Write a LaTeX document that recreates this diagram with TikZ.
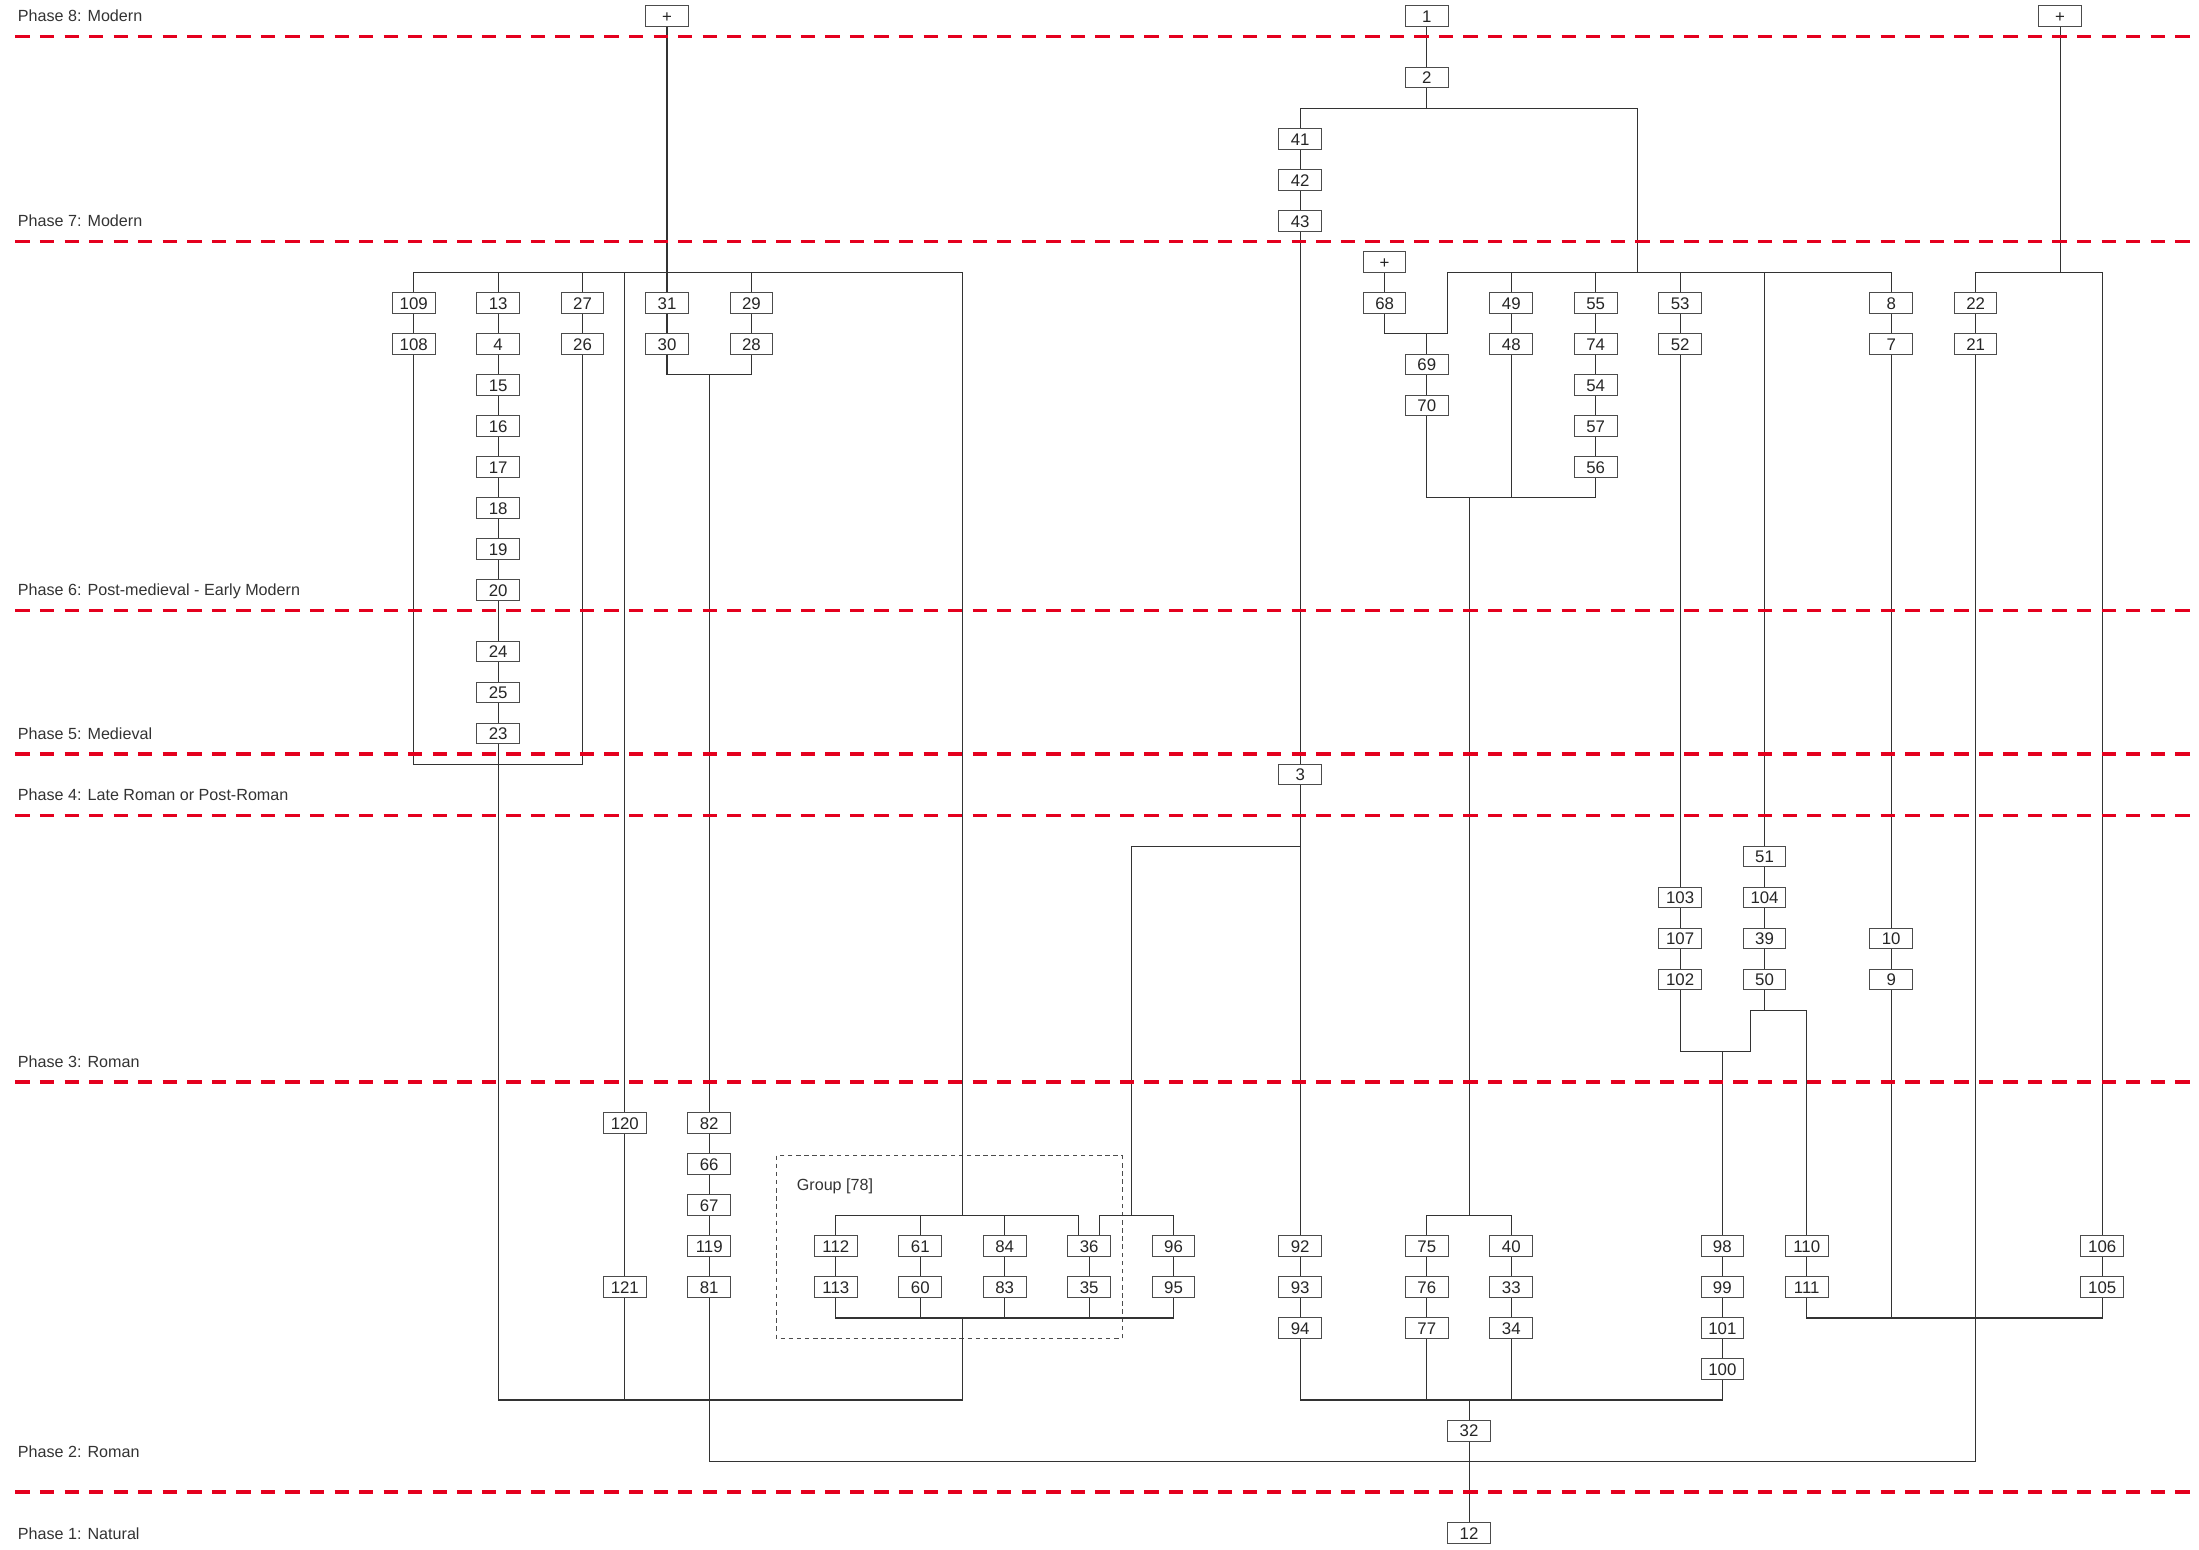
\documentclass[tikz,border=0pt]{standalone}
\usepackage{fontspec}
\setmainfont{Liberation Sans}

\definecolor{phasered}{RGB}{228,0,30}
\tikzset{
  ctx/.style={draw=black!70, fill=white, line width=0.7pt, minimum width=30.4pt,
    minimum height=14.7pt, inner sep=0pt, text height=8.6pt, text depth=0pt,
    font=\fontsize{12}{12}\selectfont, text=black!85},
  link/.style={draw=black!80, line width=0.75pt},
  phaseline/.style={draw=phasered, line width=2.6pt, dash pattern=on 10.2pt off 7.3pt},
  phaselabel/.style={anchor=west, inner sep=0pt, text height=8.2pt, text depth=0pt,
    font=\fontsize{11.5}{12}\selectfont, text=black!80},
  grpbox/.style={draw=black!70, line width=0.8pt, dash pattern=on 3.2pt off 2.6pt},
}

\begin{document}
\begin{tikzpicture}[x=30.1pt,y={(0pt,-29.24pt)}]
\useasboundingbox (-9.801,-0.390) rectangle (42.292,37.40);

% contexts
\node[ctx] (p8a) at (6,0) {+};
\node[ctx] (n1) at (24,0) {1};
\node[ctx] (p8b) at (39,0) {+};
\node[ctx] (n2) at (24,1.5) {2};
\node[ctx] (n41) at (21,3) {41};
\node[ctx] (n42) at (21,4) {42};
\node[ctx] (n43) at (21,5) {43};
\node[ctx] (p7) at (23,6) {+};

\node[ctx] (n109) at (0,7) {109};
\node[ctx] (n13) at (2,7) {13};
\node[ctx] (n27) at (4,7) {27};
\node[ctx] (n31) at (6,7) {31};
\node[ctx] (n29) at (8,7) {29};
\node[ctx] (n68) at (23,7) {68};
\node[ctx] (n49) at (26,7) {49};
\node[ctx] (n55) at (28,7) {55};
\node[ctx] (n53) at (30,7) {53};
\node[ctx] (n8) at (35,7) {8};
\node[ctx] (n22) at (37,7) {22};

\node[ctx] (n108) at (0,8) {108};
\node[ctx] (n4) at (2,8) {4};
\node[ctx] (n26) at (4,8) {26};
\node[ctx] (n30) at (6,8) {30};
\node[ctx] (n28) at (8,8) {28};
\node[ctx] (n48) at (26,8) {48};
\node[ctx] (n74) at (28,8) {74};
\node[ctx] (n52) at (30,8) {52};
\node[ctx] (n7) at (35,8) {7};
\node[ctx] (n21) at (37,8) {21};

\node[ctx] (n69) at (24,8.5) {69};
\node[ctx] (n70) at (24,9.5) {70};
\node[ctx] (n15) at (2,9) {15};
\node[ctx] (n54) at (28,9) {54};
\node[ctx] (n16) at (2,10) {16};
\node[ctx] (n57) at (28,10) {57};
\node[ctx] (n17) at (2,11) {17};
\node[ctx] (n56) at (28,11) {56};
\node[ctx] (n18) at (2,12) {18};
\node[ctx] (n19) at (2,13) {19};
\node[ctx] (n20) at (2,14) {20};
\node[ctx] (n24) at (2,15.5) {24};
\node[ctx] (n25) at (2,16.5) {25};
\node[ctx] (n23) at (2,17.5) {23};
\node[ctx] (n3) at (21,18.5) {3};

\node[ctx] (n51) at (32,20.5) {51};
\node[ctx] (n103) at (30,21.5) {103};
\node[ctx] (n104) at (32,21.5) {104};
\node[ctx] (n107) at (30,22.5) {107};
\node[ctx] (n39) at (32,22.5) {39};
\node[ctx] (n10) at (35,22.5) {10};
\node[ctx] (n102) at (30,23.5) {102};
\node[ctx] (n50) at (32,23.5) {50};
\node[ctx] (n9) at (35,23.5) {9};

\node[ctx] (n120) at (5,27) {120};
\node[ctx] (n82) at (7,27) {82};
\node[ctx] (n66) at (7,28) {66};
\node[ctx] (n67) at (7,29) {67};

\node[ctx] (n119) at (7,30) {119};
\node[ctx] (n112) at (10,30) {112};
\node[ctx] (n61) at (12,30) {61};
\node[ctx] (n84) at (14,30) {84};
\node[ctx] (n36) at (16,30) {36};
\node[ctx] (n96) at (18,30) {96};
\node[ctx] (n92) at (21,30) {92};
\node[ctx] (n75) at (24,30) {75};
\node[ctx] (n40) at (26,30) {40};
\node[ctx] (n98) at (31,30) {98};
\node[ctx] (n110) at (33,30) {110};
\node[ctx] (n106) at (40,30) {106};

\node[ctx] (n121) at (5,31) {121};
\node[ctx] (n81) at (7,31) {81};
\node[ctx] (n113) at (10,31) {113};
\node[ctx] (n60) at (12,31) {60};
\node[ctx] (n83) at (14,31) {83};
\node[ctx] (n35) at (16,31) {35};
\node[ctx] (n95) at (18,31) {95};
\node[ctx] (n93) at (21,31) {93};
\node[ctx] (n76) at (24,31) {76};
\node[ctx] (n33) at (26,31) {33};
\node[ctx] (n99) at (31,31) {99};
\node[ctx] (n111) at (33,31) {111};
\node[ctx] (n105) at (40,31) {105};

\node[ctx] (n94) at (21,32) {94};
\node[ctx] (n77) at (24,32) {77};
\node[ctx] (n34) at (26,32) {34};
\node[ctx] (n101) at (31,32) {101};
\node[ctx] (n100) at (31,33) {100};
\node[ctx] (n32) at (25,34.5) {32};
\node[ctx] (n12) at (25,37) {12};

% group
\draw[grpbox] (8.59,27.79) rectangle (16.78,32.25);
\node[phaselabel, font=\fontsize{11.5}{12}\selectfont] (grp) at (9.07,28.5) {Group [78]};

% junction points
\coordinate (a1) at (21,2.25);
\coordinate (a2) at (29,2.25);
\coordinate (a3) at (29,6.25);
\coordinate (w1) at (0,6.25);
\coordinate (w2) at (13,6.25);
\coordinate (t1) at (6,8.75);
\coordinate (t2) at (8,8.75);
\coordinate (m1) at (0,18.25);
\coordinate (m2) at (4,18.25);
\coordinate (e1) at (24.5,6.25);
\coordinate (e2) at (35,6.25);
\coordinate (e3) at (24.5,7.75);
\coordinate (e4) at (23,7.75);
\coordinate (r1) at (37,6.25);
\coordinate (r2) at (40,6.25);
\coordinate (q3) at (24,11.75);
\coordinate (q4) at (28,11.75);
\coordinate (q5) at (25,11.75);
\coordinate (q0) at (25,29.25);
\coordinate (q1) at (24,29.25);
\coordinate (q2) at (26,29.25);
\coordinate (d1) at (21,20.25);
\coordinate (d2) at (17,20.25);
\coordinate (d3) at (17,29.25);
\coordinate (f1) at (31.67,24.25);
\coordinate (f2) at (33,24.25);
\coordinate (f3) at (31.67,25.25);
\coordinate (f4) at (30,25.25);
\coordinate (g0) at (13,29.25);
\coordinate (g1) at (16.25,29.25);
\coordinate (g2) at (18,29.25);
\coordinate (g3) at (10,29.25);
\coordinate (g4) at (15.75,29.25);
\coordinate (g5) at (13,31.75);
\coordinate (g6) at (10,31.75);
\coordinate (g7) at (18,31.75);
\coordinate (h1) at (33,31.75);
\coordinate (h2) at (40,31.75);
\coordinate (s1) at (2,33.75);
\coordinate (s2) at (13,33.75);
\coordinate (v1) at (21,33.75);
\coordinate (v2) at (31,33.75);
\coordinate (u1) at (7,35.25);
\coordinate (u2) at (37,35.25);

% connectors
\draw[link] (n1) -- (n2);
\draw[link] (n2) -- (n2 |- a1);
\draw[link] (n41) -- (a1) -- (a2) -- (a3);
\draw[link] (n41) -- (n42);
\draw[link] (n42) -- (n43);
\draw[link] (n43) -- (n3);
\draw[link] (n3) -- (n92);

\draw[link] (p8a) -- (n31);
\draw[link] (n109) -- (w1) -- (w2) -- (g0);
\draw[link] (n13) -- (n13 |- w1);
\draw[link] (n27) -- (n27 |- w1);
\draw[link] (n29) -- (n29 |- w1);
\draw[link] (n120) -- (n120 |- w1);
\draw[link] (n109) -- (n108);
\draw[link] (n13) -- (n4);
\draw[link] (n4) -- (n15);
\draw[link] (n15) -- (n16);
\draw[link] (n16) -- (n17);
\draw[link] (n17) -- (n18);
\draw[link] (n18) -- (n19);
\draw[link] (n19) -- (n20);
\draw[link] (n20) -- (n24);
\draw[link] (n24) -- (n25);
\draw[link] (n25) -- (n23);
\draw[link] (n27) -- (n26);
\draw[link] (n31) -- (n30);
\draw[link] (n29) -- (n28);
\draw[link] (n30) -- (t1) -- (t2) -- (n28);
\draw[link] (n82 |- t1) -- (n82);
\draw[link] (n108) -- (m1) -- (m2) -- (n26);
\draw[link] (n23) -- (s1) -- (s2) -- (g5);
\draw[link] (n120) -- (n121);
\draw[link] (n121) -- (n121 |- s1);
\draw[link] (n82) -- (n66);
\draw[link] (n66) -- (n67);
\draw[link] (n67) -- (n119);
\draw[link] (n119) -- (n81);
\draw[link] (n81) -- (u1) -- (u2) -- (n21);

\draw[link] (n112) -- (g3) -- (g4) -- (g4 |- n36.north);
\draw[link] (n61) -- (n61 |- g3);
\draw[link] (n84) -- (n84 |- g3);
\draw[link] (d1) -- (d2) -- (d3);
\draw[link] (g1 |- n36.north) -- (g1) -- (g2) -- (n96);
\draw[link] (n112) -- (n113);
\draw[link] (n61) -- (n60);
\draw[link] (n84) -- (n83);
\draw[link] (n36) -- (n35);
\draw[link] (n96) -- (n95);
\draw[link] (n113) -- (g6) -- (g7) -- (n95);
\draw[link] (n60) -- (n60 |- g6);
\draw[link] (n83) -- (n83 |- g6);
\draw[link] (n35) -- (n35 |- g6);

\draw[link] (p7) -- (n68);
\draw[link] (e1) -- (e2) -- (n8);
\draw[link] (n68) -- (e4) -- (e3) -- (e1);
\draw[link] (n69 |- e3) -- (n69);
\draw[link] (n49) -- (n49 |- e1);
\draw[link] (n55) -- (n55 |- e1);
\draw[link] (n53) -- (n53 |- e1);
\draw[link] (n51) -- (n51 |- e1);
\draw[link] (n69) -- (n70);
\draw[link] (n49) -- (n48);
\draw[link] (n55) -- (n74);
\draw[link] (n74) -- (n54);
\draw[link] (n54) -- (n57);
\draw[link] (n57) -- (n56);
\draw[link] (n70) -- (q3) -- (q4) -- (n56);
\draw[link] (n48) -- (n48 |- q3);
\draw[link] (q5) -- (q0);
\draw[link] (n75) -- (q1) -- (q2) -- (n40);
\draw[link] (n53) -- (n52);
\draw[link] (n52) -- (n103);
\draw[link] (n103) -- (n107);
\draw[link] (n107) -- (n102);
\draw[link] (n51) -- (n104);
\draw[link] (n104) -- (n39);
\draw[link] (n39) -- (n50);
\draw[link] (n50) -- (n50 |- f1);
\draw[link] (f1) -- (f2) -- (n110);
\draw[link] (f1) -- (f3) -- (f4) -- (n102);
\draw[link] (n98 |- f3) -- (n98);
\draw[link] (n8) -- (n7);
\draw[link] (n7) -- (n10);
\draw[link] (n10) -- (n9);
\draw[link] (n9) -- (n9 |- h1);
\draw[link] (n111) -- (h1) -- (h2) -- (n105);
\draw[link] (p8b) -- (p8b |- r1);
\draw[link] (n22) -- (r1) -- (r2) -- (n106);
\draw[link] (n22) -- (n21);

\draw[link] (n92) -- (n93);
\draw[link] (n93) -- (n94);
\draw[link] (n75) -- (n76);
\draw[link] (n76) -- (n77);
\draw[link] (n40) -- (n33);
\draw[link] (n33) -- (n34);
\draw[link] (n98) -- (n99);
\draw[link] (n99) -- (n101);
\draw[link] (n101) -- (n100);
\draw[link] (n110) -- (n111);
\draw[link] (n106) -- (n105);
\draw[link] (n94) -- (v1) -- (v2) -- (n100);
\draw[link] (n77) -- (n77 |- v1);
\draw[link] (n34) -- (n34 |- v1);
\draw[link] (n32 |- v1) -- (n32);
\draw[link] (n32) -- (n12);

% phases
\foreach \r in {0.5,5.5,14.5,18,19.5,26,36}
  \draw[phaseline] (-9.435,\r) -- (42.4,\r);
\node[phaselabel] (ph8) at (-9.382,0) {Phase 8: Modern};
\node[phaselabel] (ph7) at (-9.382,5) {Phase 7: Modern};
\node[phaselabel] (ph6) at (-9.382,14) {Phase 6: Post-medieval - Early Modern};
\node[phaselabel] (ph5) at (-9.382,17.5) {Phase 5: Medieval};
\node[phaselabel] (ph4) at (-9.382,19) {Phase 4: Late Roman or Post-Roman};
\node[phaselabel] (ph3) at (-9.382,25.5) {Phase 3: Roman};
\node[phaselabel] (ph2) at (-9.382,35) {Phase 2: Roman};
\node[phaselabel] (ph1) at (-9.382,37) {Phase 1: Natural};
\end{tikzpicture}
\end{document}
